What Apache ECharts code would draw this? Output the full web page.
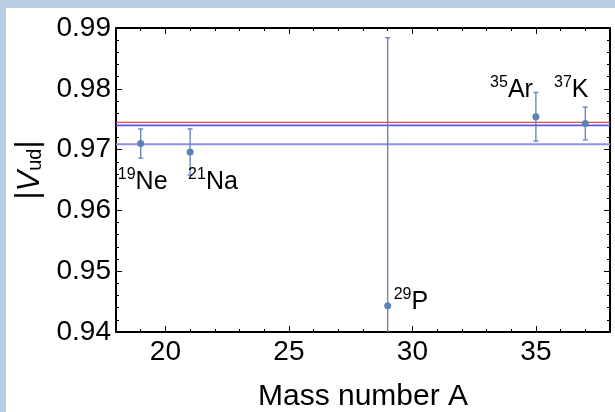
<!DOCTYPE html>
<html lang="en">
	<head>
		<meta charset="UTF-8"/>
		<title>Vud vs mass number</title>
		<script src="https://cdn.jsdelivr.net/npm/echarts@6/dist/echarts.min.js"></script>
		<style>
			html, body { margin: 0; padding: 0; background: #b8cce4; }
			#main { position: absolute; left: 6px; top: 8px; width: 609px; height: 404px; background: #fff; }
		</style>
	</head>
	<body>
		<div id="main"></div>
		<script type="text/javascript">
			// mirror nuclei: mass number, element, |Vud| and its error
			var massNumbers = [19, 21, 29, 35, 37];
			var elements = ['Ne', 'Na', 'P', 'Ar', 'K'];
			var vudValues = [0.9710, 0.9696, 0.9443, 0.9754, 0.9743];
			var vudErrors = [0.0024, 0.0038, 0.0441, 0.0040, 0.0027];

			// horizontal reference lines
			var refValues = [0.97449, 0.97400, 0.97087];
			var refColors = ['#e04848', '#5858e0', '#8e8ef2'];
			var refWidths = [1.2, 1.8, 2];

			var xMajor = [20, 25, 30, 35];

			// label placement per point (align, verticalAlign, offset)
			var labelPlace = [
				{align: 'center', verticalAlign: 'top', offset: [2, 23]},
				{align: 'left', verticalAlign: 'top', offset: [-2, 15]},
				{align: 'left', verticalAlign: 'middle', offset: [6, -5]},
				{align: 'right', verticalAlign: 'bottom', offset: [-3, -14]},
				{align: 'center', verticalAlign: 'bottom', offset: [-14, -21]}
			];

			var font = 'Liberation Sans, Arial, sans-serif';
			var pointColor = '#5e81b5';

			var points = massNumbers.map(function (m, i) {
				return {
					value: [m, vudValues[i]],
					label: {
						show: true,
						position: 'inside',
						align: labelPlace[i].align,
						verticalAlign: labelPlace[i].verticalAlign,
						offset: labelPlace[i].offset,
						formatter: '{s|' + m + '}{e|' + elements[i] + '}',
						rich: {
							s: {fontSize: 16, verticalAlign: 'top', lineHeight: 28, color: '#000', fontFamily: font},
							e: {fontSize: 25, verticalAlign: 'bottom', lineHeight: 28, color: '#000', fontFamily: font}
						}
					}
				};
			});

			var bars = massNumbers.map(function (m, i) {
				return [m, vudValues[i] - vudErrors[i], vudValues[i] + vudErrors[i]];
			});

			var refSeries = refValues.map(function (v, i) {
				return {
					type: 'line',
					data: [[18, v], [38, v]],
					symbol: 'none',
					silent: true,
					z: 2,
					lineStyle: {color: refColors[i], width: refWidths[i]}
				};
			});

			var frameLine = {show: true, onZero: false, lineStyle: {color: '#000', width: 2}};

			var myChart = echarts.init(document.getElementById('main'));
			var option = {
				animation: false,
				grid: {left: 110, top: 20, right: 5, bottom: 80, outerBoundsMode: 'none', containLabel: false},
				xAxis: [
					{
						type: 'value', min: 18, max: 38, interval: 1, position: 'bottom',
						name: 'Mass number A', nameLocation: 'middle', nameGap: 50,
						nameTextStyle: {fontSize: 30, color: '#000', fontFamily: font},
						axisLine: frameLine,
						axisTick: {show: true, inside: true, length: 3, lineStyle: {color: '#000', width: 1}},
						axisLabel: {
							margin: 6, fontSize: 28, color: '#000', fontFamily: font,
							formatter: function (v) { return v % 5 === 0 ? String(v) : ''; }
						},
						splitLine: {show: false}
					},
					{
						type: 'value', min: 18, max: 38, position: 'bottom',
						axisLine: {show: false},
						axisTick: {show: true, inside: true, length: 6, customValues: xMajor, lineStyle: {color: '#000', width: 1}},
						axisLabel: {show: false},
						splitLine: {show: false}
					},
					{
						type: 'value', min: 18, max: 38, interval: 1, position: 'top',
						axisLine: frameLine,
						axisTick: {show: true, inside: true, length: 3, lineStyle: {color: '#000', width: 1}},
						axisLabel: {show: false},
						splitLine: {show: false}
					},
					{
						type: 'value', min: 18, max: 38, position: 'top',
						axisLine: {show: false},
						axisTick: {show: true, inside: true, length: 6, customValues: xMajor, lineStyle: {color: '#000', width: 1}},
						axisLabel: {show: false},
						splitLine: {show: false}
					}
				],
				yAxis: [
					{
						type: 'value', min: 0.94, max: 0.99, interval: 0.01, position: 'left',
						name: '|{v|V}{u|ud}|', nameLocation: 'middle', nameGap: 60,
						nameTextStyle: {
							fontSize: 31, color: '#000', fontFamily: font, padding: [0, 0, 0, 20],
							rich: {
								v: {fontSize: 31, fontStyle: 'italic', color: '#000', fontFamily: font, verticalAlign: 'bottom', lineHeight: 34},
								u: {fontSize: 20, color: '#000', fontFamily: font, verticalAlign: 'bottom', lineHeight: 34}
							}
						},
						axisLine: frameLine,
						axisTick: {show: true, inside: true, length: 6, lineStyle: {color: '#000', width: 1}},
						minorTick: {show: true, splitNumber: 5, length: 3, lineStyle: {color: '#000', width: 1}},
						axisLabel: {
							margin: 5, fontSize: 28, color: '#000', fontFamily: font,
							formatter: function (v) { return v.toFixed(2); }
						},
						splitLine: {show: false}
					},
					{
						type: 'value', min: 0.94, max: 0.99, interval: 0.01, position: 'right',
						axisLine: frameLine,
						axisTick: {show: true, inside: true, length: 6, lineStyle: {color: '#000', width: 1}},
						minorTick: {show: true, splitNumber: 5, length: 3, lineStyle: {color: '#000', width: 1}},
						axisLabel: {show: false},
						splitLine: {show: false}
					}
				],
				series: refSeries.concat([
					{
						type: 'custom',
						clip: true,
						z: 3,
						data: bars,
						renderItem: function (params, api) {
							var lo = api.coord([api.value(0), api.value(1)]);
							var hi = api.coord([api.value(0), api.value(2)]);
							var cw = 2.5;
							var st = {stroke: pointColor, lineWidth: 1.3};
							return {
								type: 'group',
								children: [
									{type: 'line', shape: {x1: lo[0], y1: lo[1], x2: hi[0], y2: hi[1]}, style: st},
									{type: 'line', shape: {x1: hi[0] - cw, y1: hi[1], x2: hi[0] + cw, y2: hi[1]}, style: st},
									{type: 'line', shape: {x1: lo[0] - cw, y1: lo[1], x2: lo[0] + cw, y2: lo[1]}, style: st}
								]
							};
						}
					},
					{
						type: 'scatter',
						z: 4,
						symbolSize: 7,
						itemStyle: {color: pointColor, opacity: 1},
						data: points
					}
				])
			};
			myChart.setOption(option);
		</script>
	</body>
</html>
